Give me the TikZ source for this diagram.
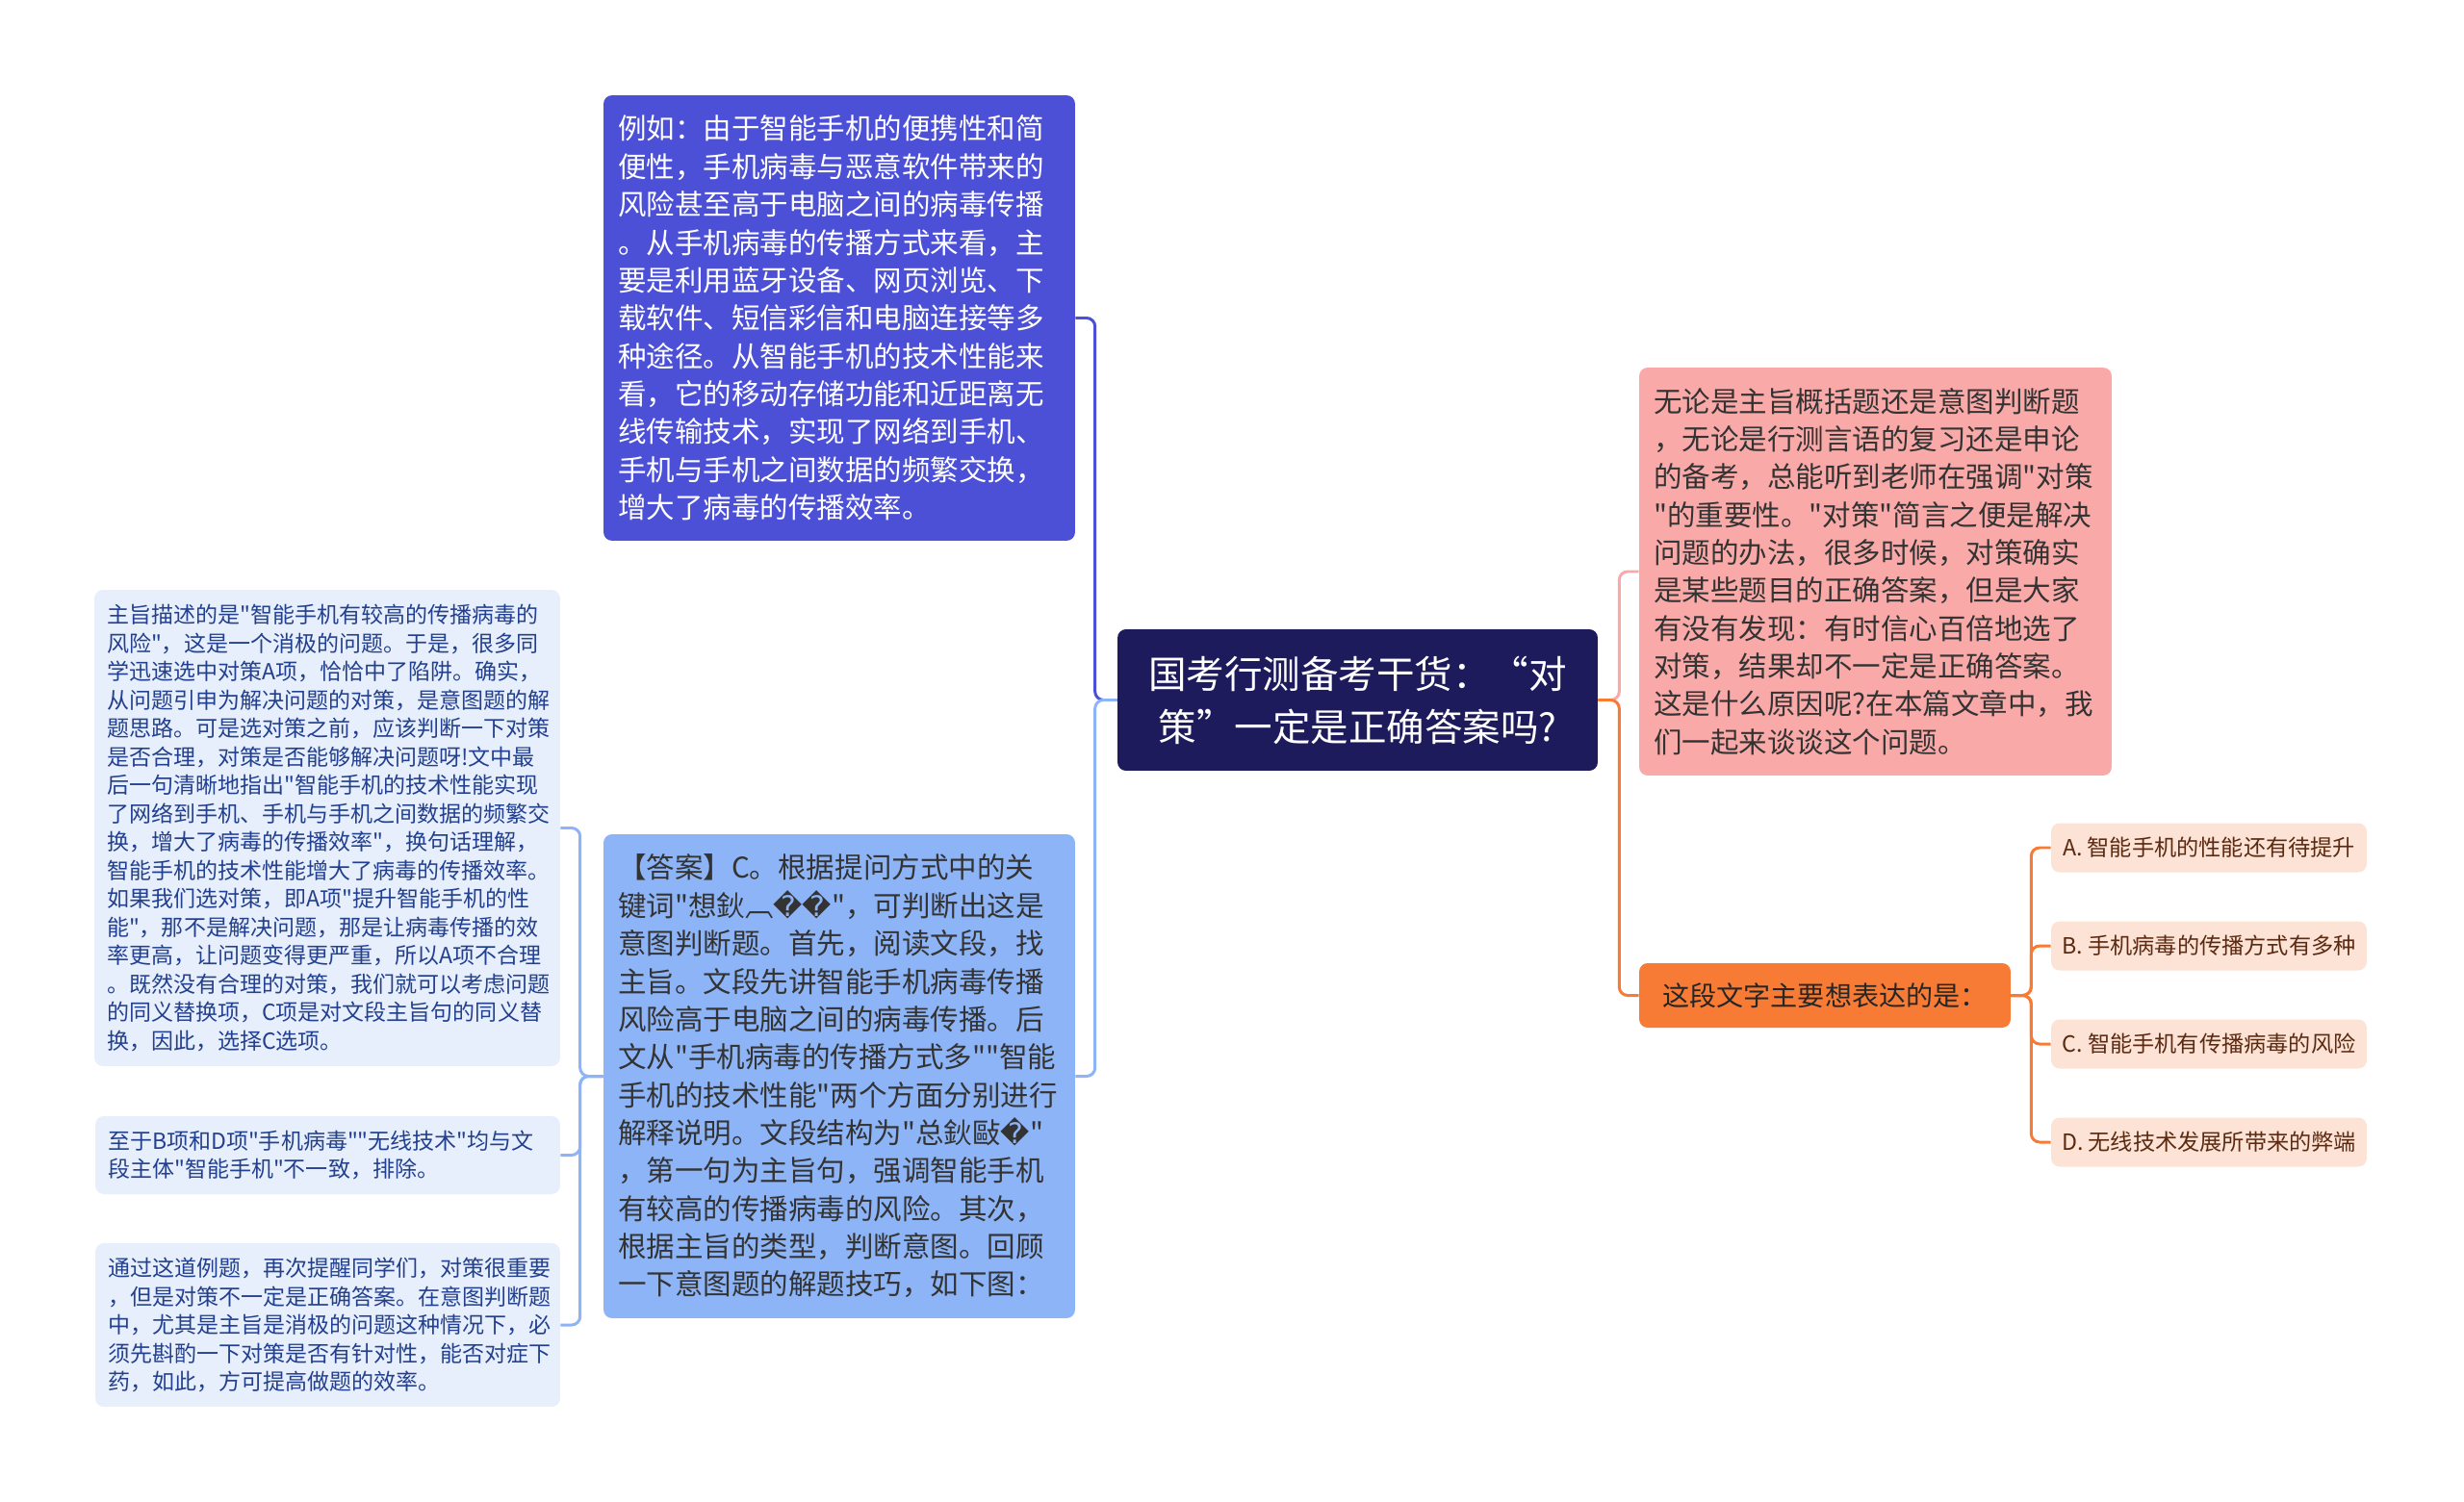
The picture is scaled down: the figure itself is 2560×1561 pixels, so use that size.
\documentclass[tikz,border=0pt]{standalone}
\usepackage{fontspec}
\setmainfont{Noto Sans CJK SC}[Ligatures=TeXOff]
\newfontfamily\symfont{DejaVu Sans}
\usepackage{tikz}
\usepackage{xcolor}

\definecolor{rootnavy}{HTML}{1D1B5B}
\definecolor{exblue}{HTML}{4B50D7}
\definecolor{ansblue}{HTML}{8DB4F6}
\definecolor{notebg}{HTML}{E7EFFC}
\definecolor{notetext}{HTML}{23408F}
\definecolor{introred}{HTML}{F9AAA8}
\definecolor{quesorange}{HTML}{F77B35}
\definecolor{optbg}{HTML}{FDE3D5}
\definecolor{opttext}{HTML}{5B2A12}

\newcommand{\bad}{{\symfont\char"FFFD}}

\begin{document}
\begin{tikzpicture}[x=0.02cm, y=-0.02cm,
    card/.style={rounded corners=5pt, inner ysep=0pt},
    bigtext/.style={font=\fontsize{16.8}{22.4}\selectfont, align=left},
    smalltext/.style={font=\fontsize{13.1}{16.8}\selectfont, align=left, text=notetext, fill=notebg},
    link/.style={line width=1.7pt, rounded corners=5pt}]

    \fill[white] (0,0) rectangle (2560,1561);
    \useasboundingbox (0,0) rectangle (2560,1561);

    % centre
    \node[card, fill=rootnavy, text=white, align=center, minimum width=9.98cm, minimum height=2.94cm,
          font=\fontsize{22.5}{31.3}\selectfont] (root) at (1410.5,727.5)
        {国考行测备考干货：“对\\策”一定是正确答案吗?};

    % left side
    \node[card, bigtext, fill=exblue, text=white, inner xsep=0.3cm, text width=9.2cm,
          minimum width=9.8cm, minimum height=9.26cm] (example) at (872,330.5)
        {例如：由于智能手机的便携性和简\\
         便性，手机病毒与恶意软件带来的\\
         风险甚至高于电脑之间的病毒传播\\
         。从手机病毒的传播方式来看，主\\
         要是利用蓝牙设备、网页浏览、下\\
         载软件、短信彩信和电脑连接等多\\
         种途径。从智能手机的技术性能来\\
         看，它的移动存储功能和近距离无\\
         线传输技术，实现了网络到手机、\\
         手机与手机之间数据的频繁交换，\\
         增大了病毒的传播效率。};
    \node[card, bigtext, fill=ansblue, text=black!80, inner xsep=0.3cm, text width=9.2cm,
          minimum width=9.8cm, minimum height=10.06cm] (answer) at (872,1118.5)
        {【答案】C。根据提问方式中的关\\
         键词"想鈥︹\bad\bad"，可判断出这是\\
         意图判断题。首先，阅读文段，找\\
         主旨。文段先讲智能手机病毒传播\\
         风险高于电脑之间的病毒传播。后\\
         文从"手机病毒的传播方式多""智能\\
         手机的技术性能"两个方面分别进行\\
         解释说明。文段结构为"总鈥敺\bad"\\
         ，第一句为主旨句，强调智能手机\\
         有较高的传播病毒的风险。其次，\\
         根据主旨的类型，判断意图。回顾\\
         一下意图题的解题技巧，如下图：};

    \node[card, smalltext, inner xsep=0.26cm, text width=9.16cm,
          minimum width=9.68cm, minimum height=9.9cm] (reason) at (340,860.5)
        {主旨描述的是"智能手机有较高的传播病毒的\\
         风险"，这是一个消极的问题。于是，很多同\\
         学迅速选中对策A项，恰恰中了陷阱。确实，\\
         从问题引申为解决问题的对策，是意图题的解\\
         题思路。可是选对策之前，应该判断一下对策\\
         是否合理，对策是否能够解决问题呀!文中最\\
         后一句清晰地指出"智能手机的技术性能实现\\
         了网络到手机、手机与手机之间数据的频繁交\\
         换，增大了病毒的传播效率"，换句话理解，\\
         智能手机的技术性能增大了病毒的传播效率。\\
         如果我们选对策，即A项"提升智能手机的性\\
         能"，那不是解决问题，那是让病毒传播的效\\
         率更高，让问题变得更严重，所以A项不合理\\
         。既然没有合理的对策，我们就可以考虑问题\\
         的同义替换项，C项是对文段主旨句的同义替\\
         换，因此，选择C选项。};
    \node[card, smalltext, inner xsep=0.26cm, text width=9.14cm,
          minimum width=9.66cm, minimum height=1.62cm] (exclude) at (340.5,1200.5)
        {至于B项和D项"手机病毒""无线技术"均与文\\
         段主体"智能手机"不一致，排除。};
    \node[card, smalltext, inner xsep=0.26cm, text width=9.14cm,
          minimum width=9.66cm, minimum height=3.4cm] (remind) at (340.5,1377)
        {通过这道例题，再次提醒同学们，对策很重要\\
         ，但是对策不一定是正确答案。在意图判断题\\
         中，尤其是主旨是消极的问题这种情况下，必\\
         须先斟酌一下对策是否有针对性，能否对症下\\
         药，如此，方可提高做题的效率。};

    % right side
    \node[card, bigtext, fill=introred, text=black!80, inner xsep=0.3cm, text width=9.22cm,
          minimum width=9.82cm, minimum height=8.48cm] (intro) at (1948.5,594)
        {无论是主旨概括题还是意图判断题\\
         ，无论是行测言语的复习还是申论\\
         的备考，总能听到老师在强调"对策\\
         "的重要性。"对策"简言之便是解决\\
         问题的办法，很多时候，对策确实\\
         是某些题目的正确答案，但是大家\\
         有没有发现：有时信心百倍地选了\\
         对策，结果却不一定是正确答案。\\
         这是什么原因呢?在本篇文章中，我\\
         们一起来谈谈这个问题。};
    \node[card, fill=quesorange, text=black!85, minimum width=7.72cm, minimum height=1.34cm,
          font=\fontsize{16}{20}\selectfont] (question) at (1896,1034.5)
        {这段文字主要想表达的是：};

    \foreach \name/\ypos/\txt in {optA/881/{A. 智能手机的性能还有待提升},
                                 optB/983/{B. 手机病毒的传播方式有多种},
                                 optC/1085/{C. 智能手机有传播病毒的风险},
                                 optD/1187/{D. 无线技术发展所带来的弊端}}
        \node[card, fill=optbg, text=opttext, minimum width=6.56cm, minimum height=1.02cm,
              font=\fontsize{13.2}{16}\selectfont] (\name) at (2295,\ypos) {\txt};

    % connectors
    \draw[link, exblue] (root.west) -- ++(-23,0) |- (example.east);
    \draw[link, ansblue] (root.west) -- ++(-23,0) |- (answer.east);
    \foreach \child in {reason,exclude,remind}
        \draw[link, ansblue] (answer.west) -- ++(-24,0) |- (\child.east);
    \draw[link, introred] (root.east) -- ++(22,0) |- (intro.west);
    \draw[link, quesorange] (root.east) -- ++(22,0) |- (question.west);
    \foreach \child in {optA,optB,optC,optD}
        \draw[link, quesorange] (question.east) -- ++(21,0) |- (\child.west);
\end{tikzpicture}
\end{document}
